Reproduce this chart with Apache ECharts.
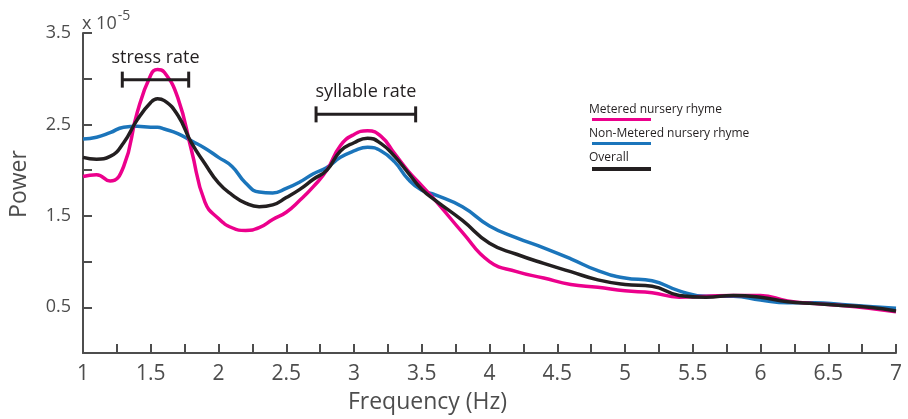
<!DOCTYPE html>
<html>
<head>
<meta charset="utf-8">
<script src="https://cdn.jsdelivr.net/npm/echarts@6/dist/echarts.min.js"></script>
<style>
  html, body { margin: 0; padding: 0; background: #fff; }
  #myChart { width: 908px; height: 419px; }
</style>
</head>
<body>
<div id="myChart"></div>
<script>
// frequency samples (Hz)
var freq = [1.0, 1.1, 1.2, 1.3, 1.4, 1.5, 1.55, 1.6, 1.7, 1.8, 1.9, 2.0, 2.1, 2.2, 2.3, 2.4, 2.5,
    2.6, 2.7, 2.8, 2.9, 3.0, 3.1, 3.2, 3.3, 3.4, 3.5, 3.6,
    3.8, 4.0, 4.2, 4.4, 4.6, 4.8, 5.0, 5.2, 5.4, 5.6, 5.8, 6.0, 6.2, 6.4, 6.6, 6.8, 7.0];

// power, in units of 1e-5
var metered = [1.93, 1.95, 1.88, 2.04, 2.63, 3.04, 3.10, 3.07, 2.79, 2.22, 1.65, 1.47, 1.37, 1.34, 1.37, 1.46, 1.54,
    1.67, 1.82, 2.00, 2.27, 2.39, 2.43, 2.37, 2.18, 1.99, 1.83, 1.67,
    1.32, 1.00, 0.89, 0.82, 0.75, 0.72, 0.68, 0.66, 0.61, 0.62, 0.63, 0.63, 0.57, 0.54, 0.52, 0.49, 0.45];
var nonMetered = [2.34, 2.36, 2.41, 2.47, 2.48, 2.47, 2.47, 2.45, 2.40, 2.32, 2.24, 2.14, 2.04, 1.86, 1.76, 1.75, 1.80,
    1.87, 1.96, 2.03, 2.14, 2.21, 2.25, 2.21, 2.09, 1.90, 1.78, 1.73,
    1.60, 1.39, 1.26, 1.15, 1.03, 0.90, 0.82, 0.79, 0.68, 0.62, 0.62, 0.58, 0.55, 0.55, 0.53, 0.51, 0.49];
var overall = [2.14, 2.12, 2.15, 2.30, 2.55, 2.74, 2.78, 2.76, 2.60, 2.30, 2.07, 1.86, 1.73, 1.64, 1.60, 1.62, 1.70,
    1.79, 1.90, 2.00, 2.21, 2.30, 2.35, 2.29, 2.15, 1.97, 1.79, 1.67,
    1.45, 1.20, 1.08, 0.98, 0.89, 0.80, 0.75, 0.73, 0.63, 0.61, 0.63, 0.61, 0.56, 0.54, 0.52, 0.50, 0.46];

var seriesNames = ['Non-Metered nursery rhyme', 'Metered nursery rhyme', 'Overall'];
var seriesColors = ['#1b75bb', '#ec008c', '#231f20'];

// brackets: label, start Hz, end Hz, level
var bracketLabels = ['stress rate', 'syllable rate'];
var bracketStart = [1.29, 2.72];
var bracketEnd = [1.78, 3.455];
var bracketLevel = [2.99, 2.61];

// legend order as drawn in the picture
var legendOrder = [1, 0, 2];

var FONT = 'Open Sans';
var AXIS_COLOR = '#4d4d4d';

function pairs(ys) {
    var out = [];
    for (var i = 0; i < freq.length; i++) {
        out.push([freq[i], ys[i]]);
    }
    return out;
}

function renderBracket(params, api) {
    var p0 = api.coord([api.value(0), api.value(2)]);
    var p1 = api.coord([api.value(1), api.value(2)]);
    var cap = 8;
    var st = { stroke: '#231f20', lineWidth: 3 };
    return {
        type: 'group',
        children: [
            { type: 'line', shape: { x1: p0[0], y1: p0[1], x2: p1[0], y2: p1[1] }, style: st },
            { type: 'line', shape: { x1: p0[0], y1: p0[1] - cap, x2: p0[0], y2: p0[1] + cap }, style: st },
            { type: 'line', shape: { x1: p1[0], y1: p1[1] - cap, x2: p1[0], y2: p1[1] + cap }, style: st },
            {
                type: 'text',
                style: {
                    x: (p0[0] + p1[0]) / 2, y: p0[1] - 22,
                    text: bracketLabels[params.dataIndex],
                    align: 'center', verticalAlign: 'middle',
                    font: '18px "' + FONT + '"', fill: '#231f20'
                }
            }
        ]
    };
}

var bracketData = [];
for (var b = 0; b < bracketLabels.length; b++) {
    bracketData.push([bracketStart[b], bracketEnd[b], bracketLevel[b]]);
}

// legend: text with a coloured bar under it
var legendItems = [];
legendOrder.forEach(function (idx, k) {
    var top = 104 + k * 24;
    legendItems.push({
        type: 'text', left: 589, top: top,
        style: { text: seriesNames[idx], font: '12px "' + FONT + '"', fill: '#231f20' }
    });
    legendItems.push({
        type: 'rect', left: 592, top: top + 14 + (k === 2 ? 1 : 0),
        shape: { width: 59, height: k === 2 ? 4 : 3 },
        style: { fill: seriesColors[idx] }
    });
});

var myChart = echarts.init(document.getElementById('myChart'));

var option = {
    animation: false,
    textStyle: { fontFamily: FONT },
    grid: { left: 80, right: 12, top: 33, bottom: 64 },
    xAxis: {
        type: 'value',
        min: 1, max: 7, interval: 0.25,
        name: 'Frequency (Hz)',
        nameLocation: 'middle',
        nameGap: 38,
        nameTextStyle: { fontSize: 23, color: '#4d4d4d', padding: [0, 124, 0, 0] },
        axisLine: { lineStyle: { color: AXIS_COLOR, width: 2 } },
        axisTick: { inside: true, length: 9, lineStyle: { color: AXIS_COLOR, width: 2 } },
        axisLabel: {
            fontSize: 21, color: '#4d4d4d', margin: 11,
            formatter: function (v) {
                return Math.abs(v * 2 - Math.round(v * 2)) < 1e-6 ? String(v) : '';
            }
        },
        splitLine: { show: false }
    },
    yAxis: {
        type: 'value',
        min: 0, max: 3.5, interval: 0.5,
        name: 'Power',
        nameLocation: 'middle',
        nameGap: 52,
        nameTextStyle: { fontSize: 23, color: '#4d4d4d', padding: [0, 0, 0, 18] },
        axisLine: { show: true, lineStyle: { color: AXIS_COLOR, width: 2 } },
        axisTick: { show: true, inside: true, length: 9, lineStyle: { color: AXIS_COLOR, width: 2 } },
        axisLabel: {
            fontSize: 18, color: '#4d4d4d', margin: 12,
            formatter: function (v) {
                var h = Math.round(v * 2);
                return h % 2 === 1 ? v.toFixed(1) : '';
            }
        },
        splitLine: { show: false }
    },
    graphic: [{
        type: 'text', left: 82, top: 9,
        style: {
            text: '{a|x 10}{b|-5}',
            rich: {
                a: { fontSize: 18, fontFamily: FONT, fill: '#4d4d4d', lineHeight: 24, verticalAlign: 'bottom' },
                b: { fontSize: 14, fontFamily: FONT, fill: '#4d4d4d', lineHeight: 24, verticalAlign: 'top', padding: [0, 0, 0, 1] }
            }
        }
    }].concat(legendItems),
    series: [
        {
            name: seriesNames[0], type: 'line', data: pairs(nonMetered),
            smooth: 0.5, showSymbol: false, lineStyle: { width: 3.5, color: seriesColors[0] }, z: 2
        },
        {
            name: seriesNames[1], type: 'line', data: pairs(metered),
            smooth: 0.5, showSymbol: false, lineStyle: { width: 3.5, color: seriesColors[1] }, z: 3
        },
        {
            name: seriesNames[2], type: 'line', data: pairs(overall),
            smooth: 0.5, showSymbol: false, lineStyle: { width: 3.5, color: seriesColors[2] }, z: 4
        },
        {
            type: 'custom', renderItem: renderBracket, data: bracketData,
            encode: { x: [0, 1], y: 2 }, clip: false, z: 5
        }
    ]
};

myChart.setOption(option);
</script>
</body>
</html>
